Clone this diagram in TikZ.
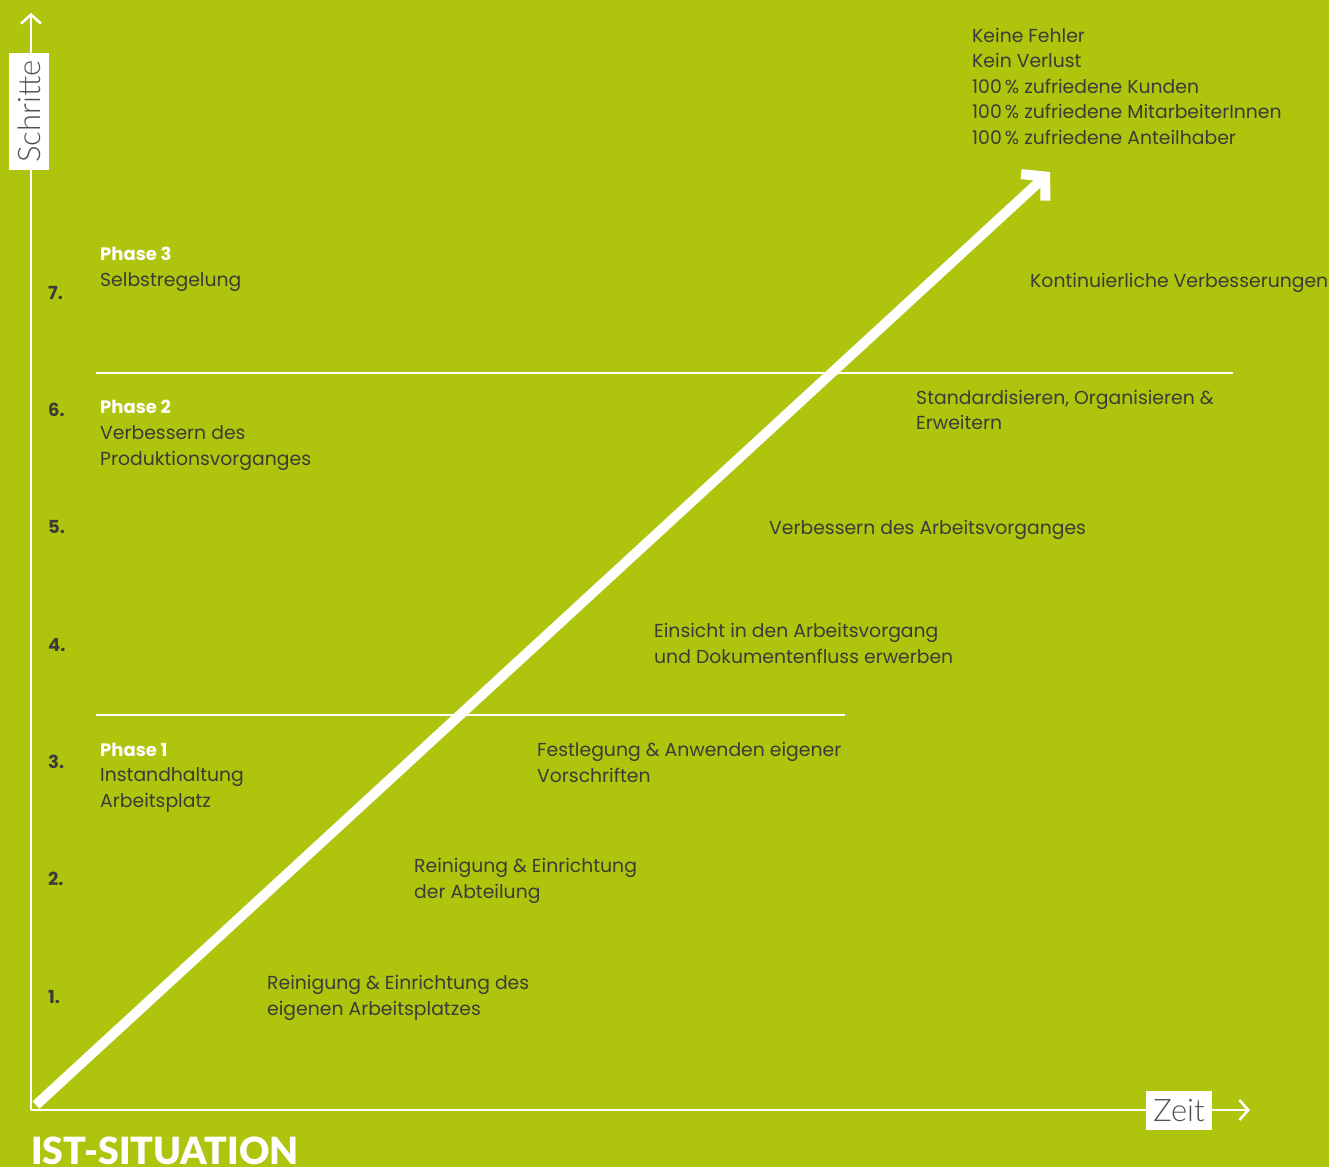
\documentclass[tikz,border=0pt]{standalone}
\usepackage{fontspec}
\setmainfont{Poppins}
\newfontfamily\lightfont{Lato Light}
\newfontfamily\heavyfont{Lato Black}
\usetikzlibrary{arrows.meta}
\definecolor{leaf}{HTML}{AFC40D}
\definecolor{ink}{HTML}{3C3C37}
\definecolor{axisink}{HTML}{505050}

\begin{document}
\begin{tikzpicture}[x=1pt, y=-1pt,
    txt/.style={anchor=base west, inner sep=0pt, text=ink, align=left,
      font=\fontsize{18.8}{25.5}\selectfont},
    num/.style={anchor=base west, inner sep=0pt, text=ink,
      font=\bfseries\fontsize{18}{23}\selectfont},
    phase/.style={anchor=base west, inner sep=0pt, text=white,
      font=\bfseries\fontsize{18}{25.5}\selectfont},
    axislabel/.style={fill=white, text=axisink, inner sep=0pt,
      font=\lightfont\fontsize{31}{31}\selectfont},
    rule/.style={white, line width=1.5pt}]
    \fill[leaf] (0,0) rectangle (1329,1167);
    \useasboundingbox (0,0) rectangle (1329,1167);

    % axes
    \coordinate (o) at (31,1110);
    \coordinate (ytip) at (31,13);
    \coordinate (xtip) at (1250,1110);
    \draw[white, line width=2.5pt, -{Straight Barb[length=9pt,width=20pt]}] (o) -- (ytip);
    \draw[white, line width=2.5pt, -{Straight Barb[length=9pt,width=20pt]}] (o) -- (xtip);
    \node[axislabel, rotate=90, minimum width=117pt, minimum height=40pt] (schritte) at (29,111.5) {Schritte};
    \node[axislabel, minimum width=66pt, minimum height=39pt] (zeit) at (1179,1110.5) {Zeit};

    % phase borders
    \draw[rule] (96,373) -- (1233,373);
    \draw[rule] (96,715) -- (845,715);

    % the way up
    \coordinate (start) at (36,1105);
    \coordinate (goal) at (1050,172);
    \draw[white, line width=10pt,
      -{Straight Barb[length=16pt,width=36pt,line cap=butt,line join=miter]}] (start) -- (goal);

    \foreach \n in {1,...,7}
        \node[num] (s\n) at (48,{1003-117.3*(\n-1)}) {\n.};

    % base = last line
    \node[phase] (p3) at (100,260) {Phase 3};
    \node[txt] (p3t) at (100,286) {Selbstregelung};
    \node[phase] (p2) at (100,413) {Phase 2};
    \node[txt] (p2t) at (100,465) {Verbessern des\\Produktionsvorganges};
    \node[phase] (p1) at (100,756) {Phase 1};
    \node[txt] (p1t) at (100,807) {Instandhaltung\\Arbeitsplatz};

    \node[txt] (t1) at (267,1015) {Reinigung \& Einrichtung des\\eigenen Arbeitsplatzes};
    \node[txt] (t2) at (414,898) {Reinigung \& Einrichtung\\der Abteilung};
    \node[txt] (t3) at (537,782) {Festlegung \& Anwenden eigener\\Vorschriften};
    \node[txt] (t4) at (654,663) {Einsicht in den Arbeitsvorgang\\und Dokumentenfluss erwerben};
    \node[txt] (t5) at (769,534) {Verbessern des Arbeitsvorganges};
    \node[txt] (t6) at (916,429.5) {Standardisieren, Organisieren \&\\Erweitern};
    \node[txt] (t7) at (1030,287) {Kontinuierliche Verbesserungen};
    \node[txt] (ziel) at (972,144) {Keine Fehler\\Kein Verlust\\100\,\% zufriedene Kunden\\100\,\% zufriedene MitarbeiterInnen\\100\,\% zufriedene Anteilhaber};

    \node[anchor=base west, inner sep=0pt, text=white,
      font=\heavyfont\fontsize{37.5}{37.5}\selectfont] (ist) at (31,1164) {IST-SITUATION};
\end{tikzpicture}
\end{document}
